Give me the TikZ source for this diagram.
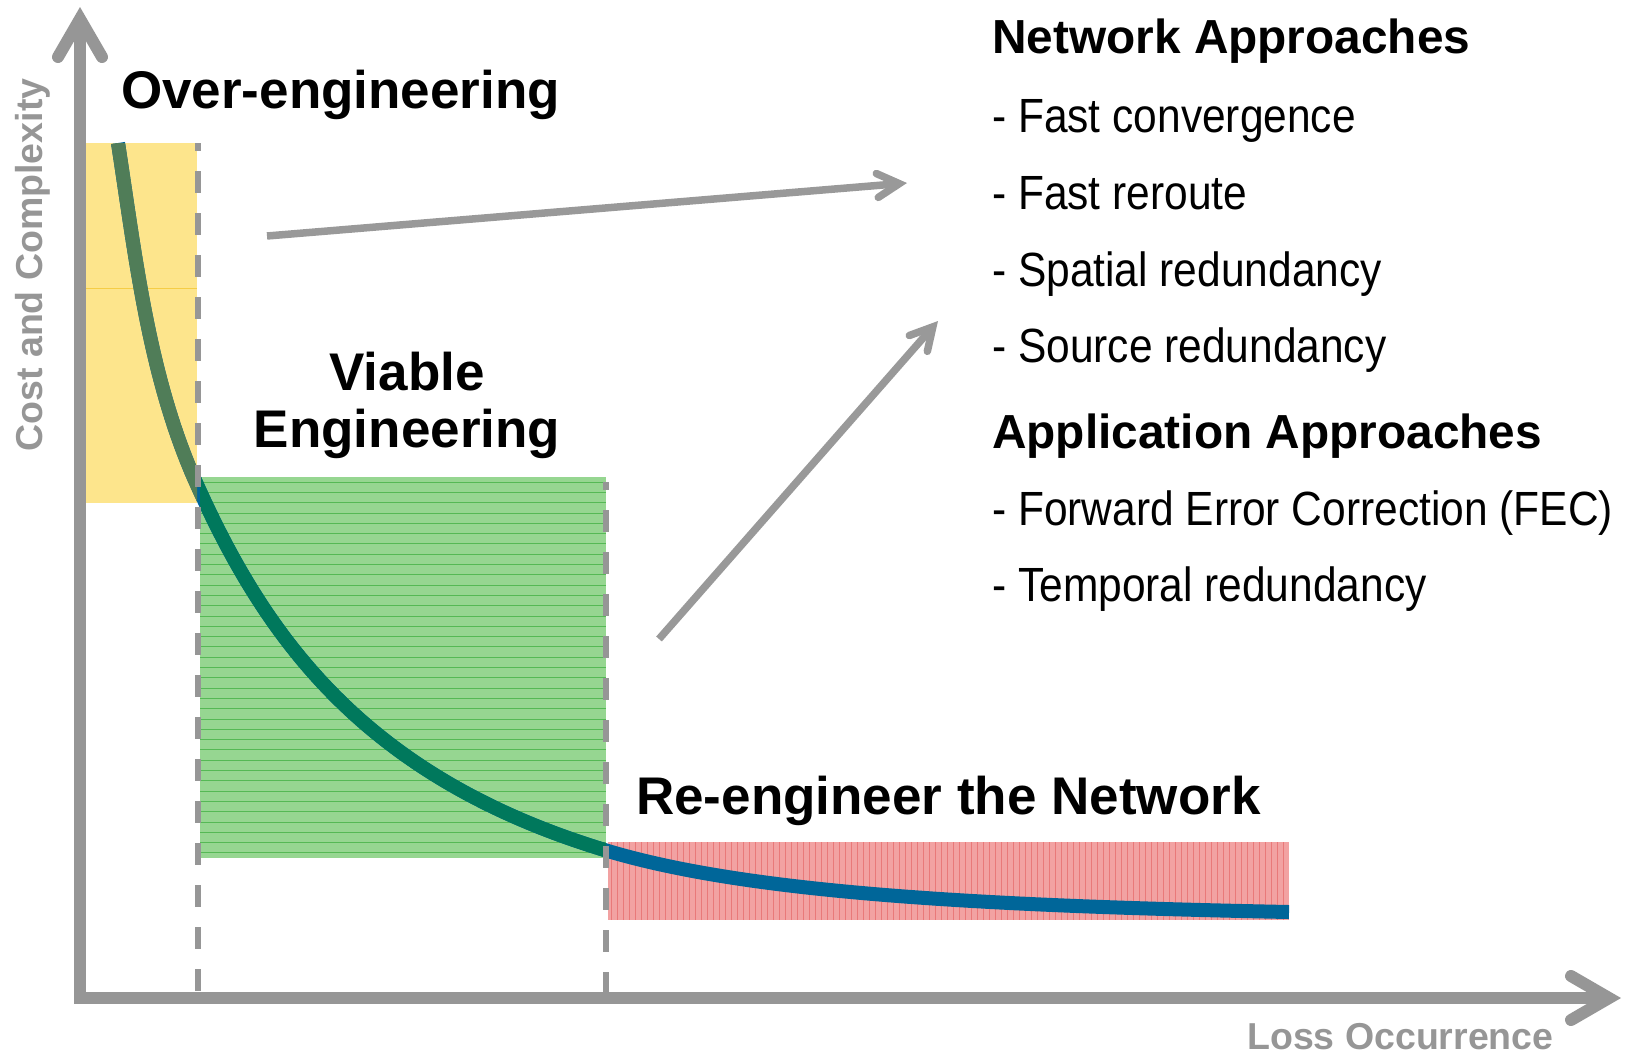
\documentclass[tikz,border=0pt]{standalone}
\usepackage{fontspec}
\setmainfont{Liberation Sans}
\newfontfamily\itemfont[FakeStretch=0.885]{Liberation Sans}
\usetikzlibrary{arrows.meta}

\definecolor{axisgray}{RGB}{150,150,150}
\definecolor{arrowgray}{RGB}{153,153,153}
\definecolor{yellowfill}{RGB}{253,229,140}
\definecolor{yellowline}{RGB}{245,205,70}
\definecolor{greenfill}{RGB}{150,214,145}
\definecolor{greenline}{RGB}{85,185,85}
\definecolor{redfill}{RGB}{242,162,162}
\definecolor{redline}{RGB}{228,95,95}
\definecolor{curveblue}{RGB}{0,102,153}
\definecolor{curveolive}{RGB}{80,125,88}
\definecolor{curveteal}{RGB}{0,120,92}

\begin{document}
\begin{tikzpicture}[x=1pt,y=-1pt,
  axisline/.style={draw=axisgray, line width=12pt, line join=miter,
    {Straight Barb[length=38pt,width=44pt,line cap=round,line join=miter]}-{Straight Barb[length=38pt,width=44pt,line cap=round,line join=miter]}},
  pointer/.style={draw=arrowgray, line width=7.5pt,
    -{Straight Barb[length=22pt,width=24pt,line cap=round,line join=miter]}},
  divider/.style={draw=axisgray, line width=6pt, dash pattern=on 22pt off 20pt, dash phase=14pt},
  costcurve/.style={line width=14pt, line cap=butt},
  biglabel/.style={inner sep=0pt, font=\fontsize{53}{60}\selectfont\bfseries},
  heading/.style={inner sep=0pt, anchor=base west, font=\fontsize{47.8}{56}\selectfont\bfseries},
  itemtext/.style={inner sep=0pt, anchor=base west, font=\itemfont\fontsize{48}{56}\selectfont},
  axislabel/.style={inner sep=0pt, text=axisgray, font=\fontsize{37.5}{44}\selectfont\bfseries}]

\useasboundingbox (0,0) rectangle (1625,1058);

% shaded regions
\fill[yellowfill] (86,143) rectangle (197,503);
\draw[yellowline, line width=1pt] (86,288) -- (197,288);
\fill[greenfill] (200,477) rectangle (606,858);
\foreach \yy in {482,492.3,...,856} {
  \draw[greenline, line width=0.8pt] (200,\yy) -- (606,\yy);
}
\fill[redfill] (608,842) rectangle (1289,920);
\foreach \xx in {611,617,...,1287} {
  \draw[redline, line width=0.9pt, opacity=0.6] (\xx,842) -- (\xx,920);
}

% cost curve, tinted where it crosses the shaded regions
\draw[costcurve, curveblue] (118,143) .. controls (136,260) and (149,380) .. (198,487)
  .. controls (268,642) and (368,779) .. (608,851)
  .. controls (752,894) and (989,906) .. (1289,912);
\begin{scope}
  \clip (86,143) rectangle (197,503);
  \draw[costcurve, curveolive] (118,143) .. controls (136,260) and (149,380) .. (198,487)
    .. controls (268,642) and (368,779) .. (608,851);
\end{scope}
\begin{scope}
  \clip (200,477) rectangle (606,858);
  \draw[costcurve, curveteal] (118,143) .. controls (136,260) and (149,380) .. (198,487)
    .. controls (268,642) and (368,779) .. (608,851);
\end{scope}

% region boundaries
\draw[divider] (198,143) -- (198,998);
\draw[divider] (606,482) -- (606,998);

% axes
\coordinate (ytip) at (80,7);
\coordinate (orig) at (80,998);
\coordinate (xtip) at (1621,998);
\draw[axisline] (ytip) -- (orig) -- (xtip);

\node[axislabel, rotate=90, anchor=base] (ylabel) at (42,265) {Cost and Complexity};
\node[axislabel, anchor=base west] (xlabel) at (1247,1049) {Loss Occurrence};

% region labels
\node[biglabel, anchor=base west] (over) at (121,108) {Over-engineering};
\node[biglabel, anchor=base] (viable) at (407,390) {Viable};
\node[biglabel, anchor=base] (viable2) at (407,447) {Engineering};
\node[biglabel, anchor=base west] (reeng) at (636,814) {Re-engineer the Network};

% approaches
\node[heading] (neth) at (992,53) {Network Approaches};
\node[itemtext] (n1) at (992,132) {- Fast convergence};
\node[itemtext] (n2) at (992,209) {- Fast reroute};
\node[itemtext] (n3) at (992,286) {- Spatial redundancy};
\node[itemtext] (n4) at (992,362) {- Source redundancy};
\node[heading] (apph) at (992,448) {Application Approaches};
\node[itemtext] (a1) at (992,525) {- Forward Error Correction (FEC)};
\node[itemtext] (a2) at (992,601) {- Temporal redundancy};

% pointers to the approaches
\coordinate (overfrom) at (267,236);
\coordinate (overto) at (907,183);
\coordinate (viafrom) at (659,639);
\coordinate (viato) at (938,321);
\draw[pointer] (overfrom) -- (overto);
\draw[pointer] (viafrom) -- (viato);

\end{tikzpicture}
\end{document}
